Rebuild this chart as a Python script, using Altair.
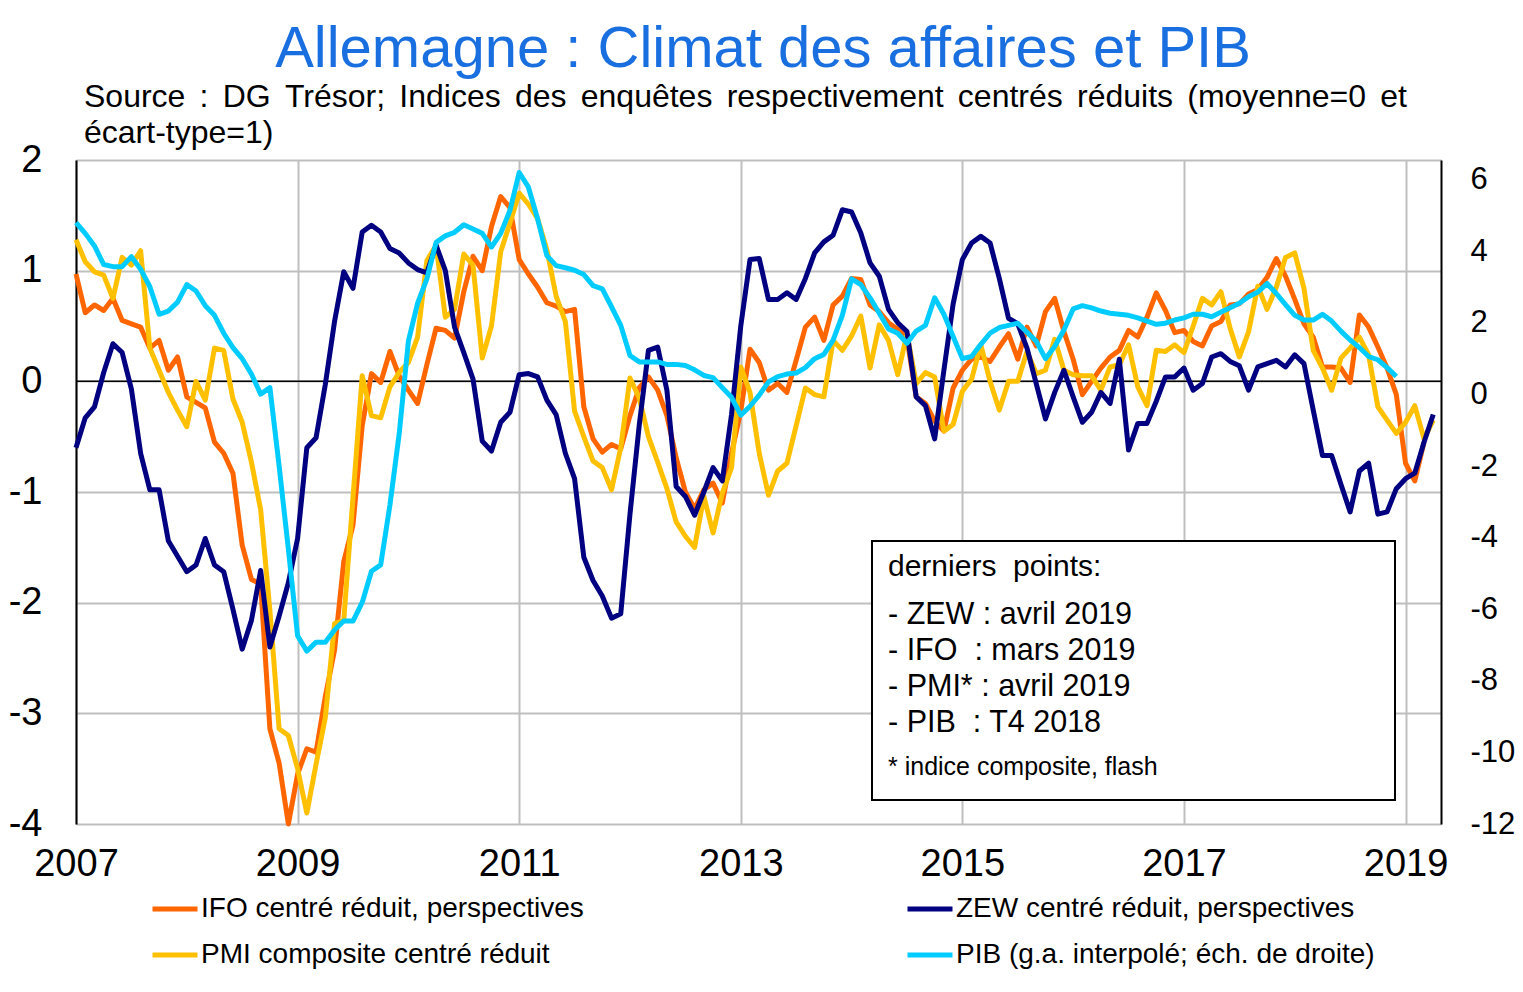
import altair as alt
import pandas as pd

FONT = "Liberation Sans"
START_YEAR = 2007

# Monthly values from Jan 2007 (centred-reduced indices, left axis)
ifo = [0.97, 0.62, 0.69, 0.64, 0.75, 0.55, 0.52, 0.49, 0.30, 0.37,
       0.10, 0.22, -0.14, -0.19, -0.24, -0.55, -0.65, -0.83, -1.48, -1.79,
       -1.83, -3.14, -3.45, -4.00, -3.55, -3.32, -3.35, -2.85, -2.43, -1.63,
       -1.30, -0.40, 0.07, -0.01, 0.27, 0.05, -0.08, -0.20, 0.15, 0.48,
       0.46, 0.39, 0.81, 1.13, 1.00, 1.40, 1.67, 1.57, 1.10, 0.97,
       0.85, 0.71, 0.68, 0.63, 0.65, -0.23, -0.52, -0.64, -0.57, -0.61,
       -0.31, -0.06, 0.04, -0.08, -0.31, -0.69, -1.00, -1.15, -0.98, -0.92,
       -1.10, -0.65, -0.27, 0.29, 0.17, -0.08, -0.02, -0.10, 0.19, 0.49,
       0.58, 0.37, 0.69, 0.77, 0.93, 0.92, 0.69, 0.63, 0.53, 0.47,
       0.39, -0.14, -0.20, -0.36, -0.45, -0.06, 0.10, 0.20, 0.22, 0.18,
       0.31, 0.43, 0.20, 0.49, 0.32, 0.63, 0.75, 0.45, 0.20, -0.12,
       0.00, 0.12, 0.22, 0.28, 0.46, 0.40, 0.58, 0.80, 0.64, 0.44,
       0.46, 0.36, 0.32, 0.50, 0.54, 0.69, 0.70, 0.79, 0.83, 0.94,
       1.11, 0.95, 0.74, 0.52, 0.40, 0.13, 0.13, 0.12, -0.01, 0.60,
       0.49, 0.31, 0.12, -0.12, -0.74, -0.90, -0.55]

zew = [-0.60, -0.33, -0.23, 0.08, 0.34, 0.26, -0.07, -0.65, -0.98, -0.98,
       -1.44, -1.58, -1.72, -1.66, -1.42, -1.66, -1.72, -2.06, -2.42, -2.16,
       -1.71, -2.40, -2.12, -1.82, -1.42, -0.60, -0.51, -0.03, 0.54, 0.99,
       0.84, 1.35, 1.41, 1.35, 1.20, 1.16, 1.07, 1.01, 0.98, 1.23,
       1.00, 0.49, 0.26, 0.02, -0.54, -0.63, -0.37, -0.28, 0.06, 0.07,
       0.04, -0.17, -0.30, -0.65, -0.88, -1.59, -1.80, -1.94, -2.14, -2.10,
       -1.20, -0.40, 0.28, 0.31, -0.08, -0.95, -1.04, -1.21, -1.00, -0.78,
       -0.90, -0.30, 0.50, 1.10, 1.11, 0.74, 0.74, 0.80, 0.74, 0.93,
       1.16, 1.26, 1.32, 1.55, 1.53, 1.34, 1.07, 0.95, 0.65, 0.53,
       0.45, -0.14, -0.22, -0.52, 0.10, 0.70, 1.10, 1.25, 1.31, 1.25,
       0.93, 0.57, 0.52, 0.30, -0.02, -0.34, -0.10, 0.10, -0.14, -0.37,
       -0.28, -0.10, -0.20, 0.20, -0.62, -0.38, -0.38, -0.18, 0.04, 0.04,
       0.12, -0.08, -0.02, 0.22, 0.25, 0.18, 0.14, -0.08, 0.13, 0.16,
       0.19, 0.13, 0.24, 0.16, -0.26, -0.67, -0.67, -0.93, -1.18, -0.81,
       -0.74, -1.20, -1.18, -0.97, -0.88, -0.83, -0.55, -0.30]

pmi = [1.28, 1.08, 0.99, 0.96, 0.75, 1.12, 1.05, 1.18, 0.30, 0.10,
       -0.10, -0.26, -0.41, 0.00, -0.17, 0.30, 0.28, -0.16, -0.37, -0.73,
       -1.16, -2.07, -3.14, -3.20, -3.50, -3.90, -3.46, -3.04, -2.19, -2.16,
       -1.05, 0.05, -0.31, -0.33, -0.05, 0.08, 0.17, 0.40, 1.09, 1.23,
       0.58, 0.65, 1.15, 1.05, 0.21, 0.50, 1.17, 1.43, 1.70, 1.60,
       1.47, 1.19, 0.77, 0.54, -0.27, -0.50, -0.72, -0.78, -0.98, -0.60,
       0.03, -0.15, -0.50, -0.73, -0.97, -1.27, -1.40, -1.50, -1.04, -1.37,
       -1.01, -0.78, 0.13, -0.10, -0.65, -1.03, -0.81, -0.74, -0.40, -0.06,
       -0.12, -0.14, 0.37, 0.28, 0.41, 0.59, 0.12, 0.51, 0.37, 0.06,
       0.43, -0.02, 0.08, 0.04, -0.45, -0.39, -0.09, 0.02, 0.33, 0.00,
       -0.26, 0.00, 0.00, 0.27, 0.07, 0.10, 0.38, 0.10, 0.06, 0.05,
       0.05, -0.08, 0.13, 0.15, 0.33, -0.05, -0.22, 0.28, 0.27, 0.33,
       0.26, 0.50, 0.75, 0.69, 0.81, 0.48, 0.22, 0.45, 0.86, 0.65,
       0.85, 1.12, 1.16, 0.84, 0.28, 0.12, -0.08, 0.21, 0.30, 0.40,
       0.24, -0.23, -0.35, -0.47, -0.37, -0.22, -0.52, -0.35]

# GDP y/y growth, interpolated monthly (right axis, %)
pib = [4.80, 4.50, 4.15, 3.63, 3.57, 3.57, 3.85, 3.50, 3.01, 2.24,
       2.33, 2.58, 3.07, 2.89, 2.48, 2.21, 1.71, 1.31, 1.00, 0.57,
       0.01, 0.19, -2.00, -4.32, -6.74, -7.17, -6.92, -6.92, -6.58, -6.33,
       -6.33, -5.81, -4.94, -4.76, -3.09, -1.11, 1.49, 2.55, 3.23, 4.25,
       4.43, 4.53, 4.74, 4.62, 4.50, 4.12, 4.50, 5.14, 6.20, 5.79,
       4.90, 3.88, 3.60, 3.54, 3.47, 3.35, 3.04, 2.95, 2.45, 1.93,
       1.09, 0.91, 0.91, 0.91, 0.84, 0.84, 0.81, 0.69, 0.53, 0.47,
       0.19, -0.08, -0.58, -0.33, -0.02, 0.35, 0.50, 0.57, 0.60, 0.75,
       1.00, 1.12, 1.52, 2.21, 3.23, 3.07, 2.70, 2.27, 1.83, 1.71,
       1.43, 1.77, 1.93, 2.70, 2.24, 1.62, 1.00, 1.06, 1.40, 1.71,
       1.87, 1.93, 1.99, 1.74, 1.49, 1.00, 1.34, 1.80, 2.39, 2.48,
       2.42, 2.33, 2.27, 2.24, 2.21, 2.14, 2.05, 1.96, 1.99, 2.08,
       2.14, 2.24, 2.24, 2.17, 2.30, 2.42, 2.55, 2.73, 2.86, 3.10,
       2.82, 2.51, 2.21, 2.08, 2.08, 2.24, 2.05, 1.77, 1.52, 1.31,
       1.06, 0.97, 0.75, 0.50]

IFO = "IFO centré réduit, perspectives"
ZEW = "ZEW centré réduit, perspectives"
PMI = "PMI composite centré réduit"
PIB = "PIB (g.a. interpolé; éch. de droite)"
# legend fills column by column: IFO / PMI in the first column
legend_order = [IFO, PMI, ZEW, PIB]
legend_colors = ["#FF6600", "#FFC000", "#000080", "#00CCFF"]

x_ticks = [2007, 2009, 2011, 2013, 2015, 2017, 2019]
left_ticks = [-4, -3, -2, -1, 0, 1, 2]
right_ticks = [-12, -10, -8, -6, -4, -2, 0, 2, 4, 6]

title_text = "Allemagne : Climat des affaires et PIB"
# justified first line: slightly widened word gaps
subtitle_1 = " \u2006".join(["Source", ":", "DG", "Trésor;", "Indices", "des", "enquêtes",
                              "respectivement", "centrés", "réduits", "(moyenne=0", "et"])
subtitle_2 = "écart-type=1)"
box_head = "derniers\u00a0\u00a0points:"
box_lines = ["- ZEW : avril 2019", "- IFO\u00a0\u00a0: mars 2019",
             "- PMI* : avril 2019", "- PIB\u00a0\u00a0: T4 2018"]
box_note = "* indice composite, flash"


def frame(vals, name):
    return pd.DataFrame({"t": [START_YEAR + i / 12 for i in range(len(vals))],
                         "v": vals, "s": name})


GRID = "#BFBFBF"
PLAIN = "'' + datum.value"

x_enc = alt.X("t:Q",
              scale=alt.Scale(domain=[2007, 2019.32], nice=False, zero=False),
              axis=alt.Axis(values=x_ticks, labelExpr=PLAIN, title=None, grid=True,
                            gridColor=GRID, gridWidth=2, domain=False, ticks=False,
                            labelFontSize=38, labelFont=FONT, labelColor="black",
                            labelPadding=21, labelFlush=False, labelOverlap=False))

y_left = alt.Y("v:Q",
               scale=alt.Scale(domain=[-4, 2], nice=False, zero=False),
               axis=alt.Axis(values=left_ticks, labelExpr=PLAIN, title=None, grid=True,
                             gridColor=GRID, gridWidth=2, domainColor="black",
                             domainWidth=2, ticks=False, labelFontSize=38,
                             labelFont=FONT, labelColor="black", labelPadding=34,
                             labelFlush=False, labelOverlap=False, orient="left"))

y_right = alt.Y("v:Q",
                scale=alt.Scale(domain=[-12, 6.55], nice=False, zero=False),
                axis=alt.Axis(values=right_ticks, labelExpr=PLAIN, title=None,
                              grid=False, domainColor="black", domainWidth=2,
                              ticks=False, labelFontSize=31, labelFont=FONT,
                              labelColor="black", labelPadding=29, labelFlush=False,
                              labelOverlap=False, orient="right"))

color_enc = alt.Color("s:N",
                      scale=alt.Scale(domain=legend_order, range=legend_colors),
                      legend=alt.Legend(orient="none", legendX=74, legendY=724,
                                        columns=2, title=None, symbolType="stroke",
                                        symbolStrokeWidth=5, symbolSize=2025,
                                        labelFontSize=28, labelFont=FONT,
                                        labelColor="black", labelOffset=1,
                                        columnPadding=313, rowPadding=7,
                                        labelLimit=0))


def line(vals, name, y):
    return alt.Chart(frame(vals, name)).mark_line(
        strokeWidth=5, strokeJoin="round").encode(x=x_enc, y=y, color=color_enc)


zero_rule = alt.Chart(pd.DataFrame({"z": [0]})).mark_rule(
    color="black", strokeWidth=1.5).encode(y=alt.datum(0))

left = alt.layer(zero_rule,
                 line(ifo, IFO, y_left),
                 line(pmi, PMI, y_left),
                 line(zew, ZEW, y_left))
right = alt.layer(line(pib, PIB, y_right))
main = alt.layer(left, right).resolve_scale(y="independent")

one = pd.DataFrame({"a": [0]})
box = alt.Chart(one).mark_rect(fill="white", stroke="black", strokeWidth=2).encode(
    x=alt.value(796), x2=alt.value(1319), y=alt.value(381), y2=alt.value(640))
head = alt.Chart(one).mark_text(text=box_head, align="left", baseline="middle",
                                fontSize=30, font=FONT, color="black").encode(
    x=alt.value(812), y=alt.value(407))
lines_txt = alt.Chart(one).mark_text(text=box_lines, align="left", baseline="middle",
                                     fontSize=30.5, font=FONT, color="black",
                                     lineHeight=36).encode(
    x=alt.value(812), y=alt.value(455))
note = alt.Chart(one).mark_text(text=box_note, align="left", baseline="middle",
                                fontSize=25, font=FONT, color="black").encode(
    x=alt.value(812), y=alt.value(607))

title = alt.Chart(one).mark_text(text=title_text, align="center", baseline="middle",
                                 fontSize=58, font=FONT, color="#1A6FE0").encode(
    x=alt.value(687), y=alt.value(-110))
sub1 = alt.Chart(one).mark_text(text=subtitle_1, align="left", baseline="middle",
                                fontSize=32, font=FONT, color="black").encode(
    x=alt.value(8), y=alt.value(-63))
sub2 = alt.Chart(one).mark_text(text=subtitle_2, align="left", baseline="middle",
                                fontSize=32, font=FONT, color="black").encode(
    x=alt.value(8), y=alt.value(-27))

chart = alt.layer(main, box, head, lines_txt, note, title, sub1, sub2).properties(
    width=1365, height=664,
    autosize=alt.AutoSizeParams(type="none"),
    padding={"left": 68, "top": 152, "right": 74, "bottom": 150},
).configure_view(strokeWidth=0).configure(background="white")

chart.save("out.html", embed_options={"renderer": "svg", "actions": False})
